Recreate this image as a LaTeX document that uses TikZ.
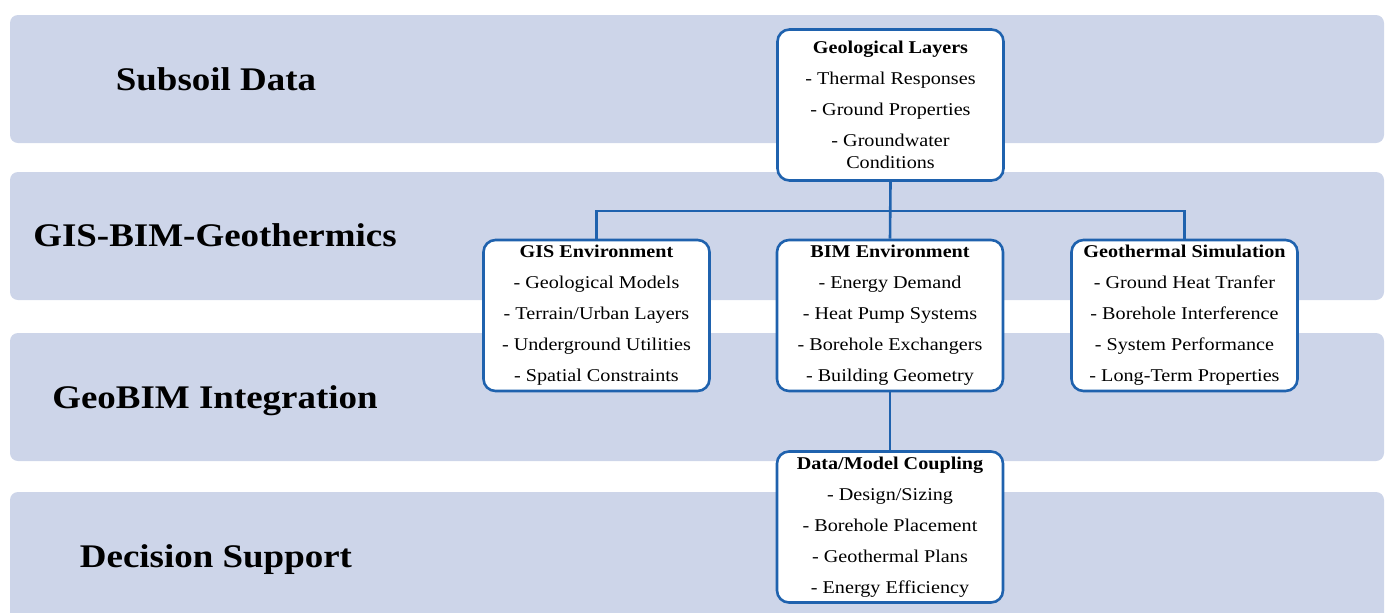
\documentclass[tikz,border=0pt]{standalone}
\usepackage{fontspec}
\setmainfont{Liberation Serif}[FakeStretch=1.12]
\definecolor{bandfill}{HTML}{CDD5E9}
\definecolor{boxline}{HTML}{1F62AE}
\tikzset{
  band/.style={fill=bandfill, draw=none, rounded corners=4pt},
  bandlabel/.style={font=\fontsize{16.5}{20}\selectfont\bfseries, text=black},
  infobox/.style={draw=boxline, line width=1.3pt, fill=white, rounded corners=6pt,
    minimum width=113pt, minimum height=75.5pt, inner sep=0pt, align=center,
    font=\fontsize{9}{15.5}\selectfont},
  link/.style={draw=boxline, line width=1.3pt}
}
\begin{document}
\begin{tikzpicture}[x=0.5pt,y=-0.5pt]
\useasboundingbox (0,0) rectangle (1390,612);
\clip (0,0) rectangle (1390,612);
% bands
\path[band] (10,15) rectangle (1384,143);
\path[band] (10,172) rectangle (1384,300);
\path[band] (10,333) rectangle (1384,461);
\path[band] (10,492) rectangle (1384,660);
% band labels
\node[bandlabel] (l1) at (216,79) {Subsoil Data};
\node[bandlabel] (l2) at (215,235) {GIS-BIM-Geothermics};
\node[bandlabel] (l3) at (215,401) {GeoBIM Integration};
\node[bandlabel] (l4) at (216,560) {Decision Support};
% boxes
\node[infobox] (geo) at (890.5,105) {\textbf{Geological Layers}\\- Thermal Responses\\- Ground Properties\\- Groundwater\\[-4.3pt]Conditions};
\node[infobox] (gis) at (596.5,315.5) {\textbf{GIS Environment}\\- Geological Models\\- Terrain/Urban Layers\\- Underground Utilities\\- Spatial Constraints};
\node[infobox] (bim) at (890,315.5) {\textbf{BIM Environment}\\- Energy Demand\\- Heat Pump Systems\\- Borehole Exchangers\\- Building Geometry};
\node[infobox] (sim) at (1184.5,315.5) {\textbf{Geothermal Simulation}\\- Ground Heat Tranfer\\- Borehole Interference\\- System Performance\\- Long-Term Properties};
\node[infobox] (dmc) at (890,527) {\textbf{Data/Model Coupling}\\- Design/Sizing\\- Borehole Placement\\- Geothermal Plans\\- Energy Efficiency};
% connectors
\coordinate (split) at (890.5,211);
\draw[link] (geo.south) -- (bim.north);
\draw[link] (gis.north) |- (split) -| (sim.north);
\draw[link] (bim.south) -- (dmc.north);
\end{tikzpicture}
\end{document}
